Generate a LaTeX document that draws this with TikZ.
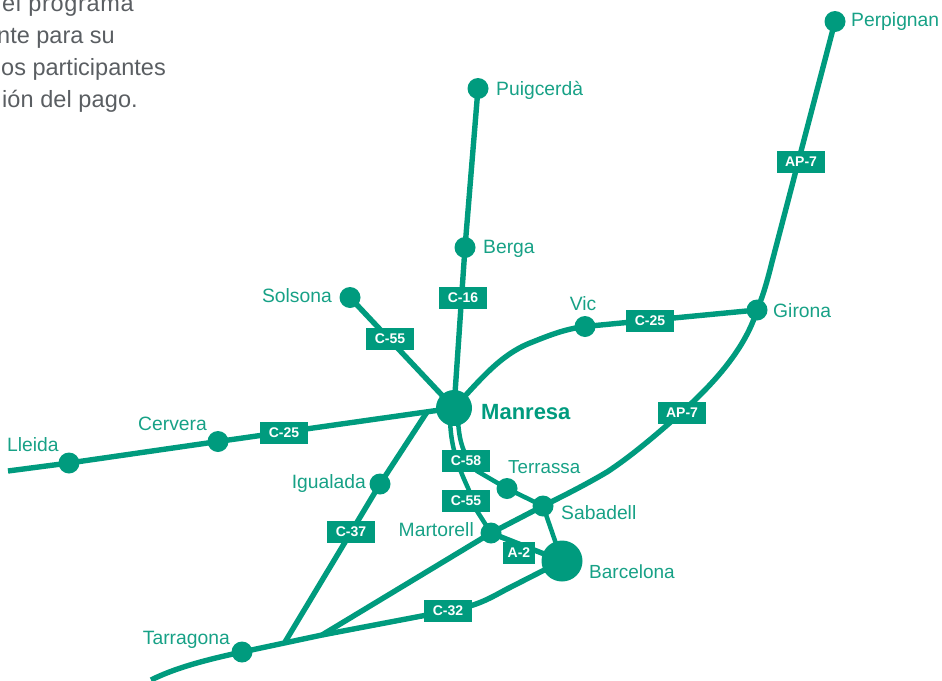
\documentclass[tikz,border=0pt]{standalone}
\usepackage{fontspec}
\setmainfont{Liberation Sans}
\definecolor{rail}{HTML}{009B7E}
\definecolor{citytext}{HTML}{17A186}
\definecolor{bodygray}{HTML}{5A5E62}
\tikzset{
  x=1pt,y=-1pt,
  stop/.style={circle,fill=rail,inner sep=0pt,minimum size=21pt},
  hub/.style={circle,fill=rail,inner sep=0pt,minimum size=36pt},
  bighub/.style={circle,fill=rail,inner sep=0pt,minimum size=41pt},
  route/.style={draw=rail,line width=5.4pt},
  tag/.style={fill=rail,text=white,font=\fontsize{14}{14}\selectfont\bfseries,inner sep=0pt,minimum width=48pt,minimum height=22pt},
  city/.style={text=citytext,font=\fontsize{19.3}{19.3}\selectfont,inner sep=0pt},
  para/.style={text=bodygray,font=\fontsize{23.5}{23.5}\selectfont,inner sep=0pt,anchor=base east},
}
\begin{document}
\begin{tikzpicture}
\useasboundingbox (0,0) rectangle (942,680);
\clip (0,0) rectangle (942,680);
% paragraph fragment
\node[para] (p1) at (134,12) {\addfontfeature{LetterSpace=3}el programa};
\node[para] (p2) at (115,43) {nte para su};
\node[para] (p3) at (166,75) {os participantes};
\node[para] (p4) at (138,107) {\addfontfeature{LetterSpace=0.5}ión del pago.};
% free coordinates
\coordinate (westend) at (8,471);
\coordinate (tarrend) at (151,680);
\coordinate (j37) at (285,642);
\coordinate (j7) at (322,635);
\coordinate (c37top) at (427,412);
% stations
\node[stop] (perpignan) at (835,21.5) {};
\node[stop] (girona) at (757,310) {};
\node[stop] (puigcerda) at (478,88.5) {};
\node[stop] (berga) at (465,247.5) {};
\node[stop] (solsona) at (350,297.5) {};
\node[stop] (vic) at (585,326.5) {};
\node[hub] (manresa) at (454,408) {};
\node[stop] (lleida) at (69,463) {};
\node[stop] (cervera) at (218,441.5) {};
\node[stop] (igualada) at (380,484) {};
\node[stop] (tarragona) at (242,652) {};
\node[stop] (terrassa) at (507,488.5) {};
\node[stop] (sabadell) at (543,506) {};
\node[stop] (martorell) at (491,533) {};
\node[bighub] (barcelona) at (562,561) {};
% routes
\draw[route] (perpignan.center) -- (772,262) .. controls (767,282) and (763,296) .. (girona.center);
\draw[route] (girona.center) .. controls (745,350) and (712,385) .. (682,412)
   .. controls (655,436) and (630,457) .. (607,472)
   .. controls (585,485) and (565,495) .. (sabadell.center) -- (martorell.center) -- (j7);
\draw[route] (barcelona.center) -- (507,589) .. controls (490,598) and (478,606) .. (448,611)
   -- (j7) -- (tarragona.center) .. controls (205,660) and (175,668) .. (tarrend);
\draw[route] (c37top) -- (igualada.center) -- (j37);
\draw[route] (westend) -- (lleida.center) -- (cervera.center) -- (manresa.center);
\draw[route] (manresa.center) .. controls (480,380) and (500,355) .. (530,343)
   .. controls (550,335) and (565,329) .. (vic.center) -- (girona.center);
\draw[route] (puigcerda.center) -- (berga.center) -- (manresa.center);
\draw[route] (solsona.center) -- (manresa.center);
\draw[route,line width=4.5pt] (458,420) .. controls (459,440) and (463,456) .. (477,471) -- (terrassa.center) -- (sabadell.center) -- (barcelona.center);
\draw[route,line width=4.5pt] (450,420) .. controls (451,445) and (456,462) .. (468,488) -- (477,511) -- (martorell.center);
\draw[route] (martorell.center) -- (barcelona.center);
% road tags
\node[tag] (t16) at (463,297.5) {C-16};
\node[tag] (t55a) at (390,339) {C-55};
\node[tag] (t25a) at (284,433) {C-25};
\node[tag] (t25b) at (650,320.5) {C-25};
\node[tag] (t7a) at (801,161.5) {AP-7};
\node[tag] (t7b) at (682,413) {AP-7};
\node[tag] (t58) at (466,460.5) {C-58};
\node[tag] (t55b) at (466,500.5) {C-55};
\node[tag] (t37) at (351,531.5) {C-37};
\node[tag,minimum width=32pt] (ta2) at (519,552.5) {A-2};
\node[tag] (t32) at (448,610.5) {C-32};
% city names
\node[city,anchor=base west] (lperp) at (851,27) {Perpignan};
\node[city,anchor=base west] (lpuig) at (496,95) {Puigcerdà};
\node[city,anchor=base west] (lberg) at (483,253) {Berga};
\node[city,anchor=base east] (lsols) at (332,302) {Solsona};
\node[city,anchor=base] (lvic) at (583,310) {Vic};
\node[city,anchor=base west] (lgiro) at (773,317) {Girona};
\node[city,anchor=base west,text=rail,font=\fontsize{22}{22}\selectfont\bfseries] (lman) at (481,419) {Manresa};
\node[city,anchor=base east] (lcerv) at (207,430) {Cervera};
\node[city,anchor=base west] (llle) at (7,451) {Lleida};
\node[city,anchor=base east] (ligua) at (366,488) {Igualada};
\node[city,anchor=base west,font=\fontsize{18.8}{18.8}\selectfont] (lterr) at (508,473) {Terrassa};
\node[city,anchor=base west] (lsaba) at (561,519) {Sabadell};
\node[city,anchor=base east] (lmart) at (474,536) {Martorell};
\node[city,anchor=base west,font=\fontsize{19}{19}\selectfont] (lbarc) at (589,578) {Barcelona};
\node[city,anchor=base east] (ltarr) at (230,644) {Tarragona};
\end{tikzpicture}
\end{document}
